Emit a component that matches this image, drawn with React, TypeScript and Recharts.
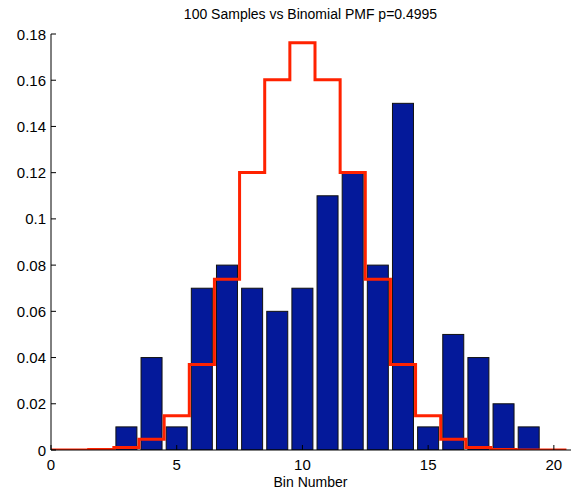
import { ComposedChart, Bar, Line, XAxis, YAxis } from "recharts";

const TITLE = "100 Samples vs Binomial PMF p=0.4995";
const X_LABEL = "Bin Number";

// sample histogram (fraction of 100 samples per bin)
const bins = [3, 4, 5, 6, 7, 8, 9, 10, 11, 12, 13, 14, 15, 16, 17, 18, 19];
const sampleFreq = [0.01, 0.04, 0.01, 0.07, 0.08, 0.07, 0.06, 0.07, 0.11, 0.12, 0.08, 0.15, 0.01, 0.05, 0.04, 0.02, 0.01];

// binomial pmf drawn as stairs, each level starts at the left edge
const stairX = [0, 0.5, 1.5, 2.5, 3.5, 4.5, 5.5, 6.5, 7.5, 8.5, 9.5, 10.5, 11.5, 12.5, 13.5, 14.5, 15.5, 16.5, 17.5, 18.5, 19.5, 20.5];
const pmfValues = [0, 0, 0.0002, 0.0011, 0.0046, 0.0148, 0.037, 0.0739, 0.1201, 0.1602, 0.1762, 0.1602, 0.1201, 0.0739, 0.037, 0.0148, 0.0046, 0.0011, 0.0002, 0, 0, 0];

const xTicks = [0, 5, 10, 15, 20];
const yTicks = [0, 0.02, 0.04, 0.06, 0.08, 0.1, 0.12, 0.14, 0.16, 0.18];

const barData = bins.map((x, i) => ({ x, freq: sampleFreq[i] }));
const stairData = stairX.map((x, i) => ({ x, pmf: pmfValues[i] }));

const BAR_W = 21;

const fmt = (v: number) => String(Number(v.toFixed(2)));

function YTick(props: any) {
    const { x, y, payload } = props;
    return (
        <g>
            <text x={x} y={y} textAnchor="end" dominantBaseline="central" fontSize={15} fill="#000">
                {fmt(payload.value)}
            </text>
            <line x1={x + 5} x2={x + 10} y1={y} y2={y} stroke="#000" />
        </g>
    );
}

function XTick(props: any) {
    const { x, y, payload } = props;
    return (
        <g>
            <text x={x} y={y} dy="0.71em" textAnchor="middle" fontSize={15} fill="#000">
                {payload.value}
            </text>
            <line x1={x} x2={x} y1={y - 9} y2={y - 14} stroke="#000" />
        </g>
    );
}

function TopTick(props: any) {
    const { x, y } = props;
    return <line x1={x} x2={x} y1={y} y2={y + 5} stroke="#000" />;
}

// band is narrowed by the stair points, so draw the bar at its real width
function WideBar(props: any) {
    const { x, y, width, height } = props;
    if (!height) return null;
    const cx = x + width / 2;
    return (
        <rect
            x={cx - BAR_W / 2}
            y={y}
            width={BAR_W}
            height={height}
            fill="#04199a"
            stroke="#111"
            strokeWidth={1}
        />
    );
}

export default function App() {
    return (
        <div
            style={{
                position: "absolute",
                left: 0,
                top: 0,
                width: 571,
                height: 493,
                overflow: "hidden",
                background: "#fff",
                fontFamily: "'Liberation Sans', Arial, sans-serif",
            }}
        >
            <div
                style={{
                    position: "absolute",
                    left: 51,
                    width: 519,
                    top: 6,
                    textAlign: "center",
                    fontSize: 14,
                    lineHeight: "16px",
                }}
            >
                {TITLE}
            </div>
            <ComposedChart
                width={600}
                height={493}
                data={barData}
                margin={{ top: 34, right: 21, bottom: 0, left: 0 }}
            >
                <XAxis
                    dataKey="x"
                    type="number"
                    domain={[0, 21]}
                    ticks={xTicks}
                    height={43}
                    tickSize={0}
                    tickMargin={9}
                    tickLine={false}
                    tick={<XTick />}
                    axisLine={{ stroke: "#000" }}
                    allowDataOverflow
                />
                <XAxis
                    xAxisId="top"
                    dataKey="x"
                    type="number"
                    orientation="top"
                    domain={[0, 21]}
                    ticks={xTicks}
                    height={0}
                    tickSize={0}
                    tickMargin={0}
                    tickLine={false}
                    tick={<TopTick />}
                    axisLine={{ stroke: "#000" }}
                />
                <YAxis
                    type="number"
                    domain={[0, 0.18]}
                    ticks={yTicks}
                    width={51}
                    tickSize={0}
                    tickMargin={5}
                    tickLine={false}
                    tick={<YTick />}
                    axisLine={{ stroke: "#000" }}
                    allowDataOverflow
                />
                <Bar
                    dataKey="freq"
                    fill="#04199a"
                    shape={<WideBar />}
                    isAnimationActive={false}
                />
                <Line
                    data={stairData}
                    dataKey="pmf"
                    type="stepAfter"
                    stroke="#ff2200"
                    strokeWidth={3}
                    strokeLinejoin="miter"
                    dot={false}
                    activeDot={false}
                    isAnimationActive={false}
                />
            </ComposedChart>
            <div
                style={{
                    position: "absolute",
                    left: 51,
                    width: 519,
                    top: 474,
                    textAlign: "center",
                    fontSize: 14,
                    lineHeight: "16px",
                }}
            >
                {X_LABEL}
            </div>
        </div>
    );
}
